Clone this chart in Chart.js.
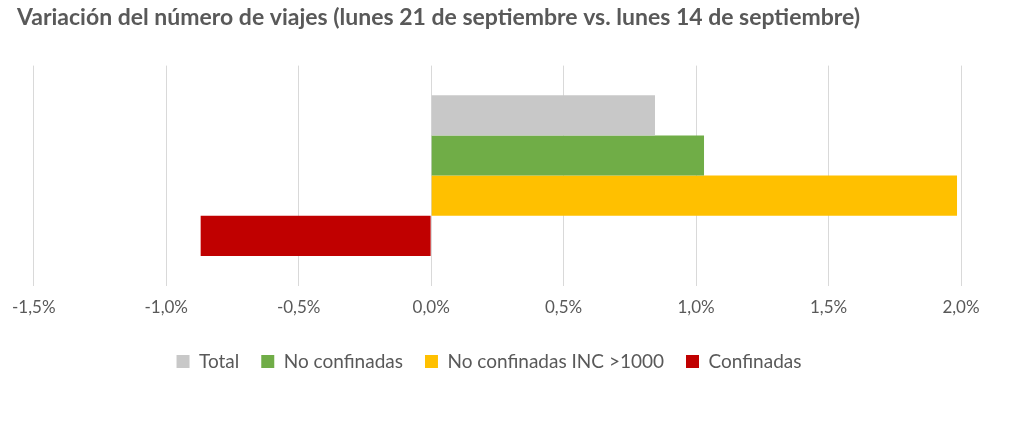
<!DOCTYPE html>
<html><head><meta charset="utf-8">
<script src="https://cdn.jsdelivr.net/npm/chart.js@4"></script>
<style>html,body{margin:0;padding:0;background:#fff}#w{width:1024px;height:421px}</style>
</head><body><div id="w"><canvas id="c"></canvas></div>
<script>
const categories = [''];
const seriesNames = ['Total','No confinadas','No confinadas INC >1000','Confinadas'];
const seriesValues = [[0.845],[1.03],[1.985],[-0.87]];
const colors = ['#c8c8c8','#70ad47','#ffc000','#c00000'];
const title = 'Variación del número de viajes (lunes 21 de septiembre vs. lunes 14 de septiembre)';
new Chart(document.getElementById('c'), {
  type: 'bar',
  data: {labels: categories, datasets: seriesNames.map((n,i)=>({label:n,data:seriesValues[i],backgroundColor:colors[i],barPercentage:1,categoryPercentage:0.73}))},
  options: {
    indexAxis:'y', responsive:true, maintainAspectRatio:false, animation:false,
    layout:{padding:{left:17,right:63,top:0,bottom:40}},
    plugins:{
      title:{display:true,text:title,align:'start',color:'#595959',font:{family:'Lato',size:23,weight:'bold'},padding:{top:4,bottom:34}},
      legend:{position:'bottom',labels:{boxWidth:13,boxHeight:13,color:'#595959',font:{family:'Lato',size:19},padding:22}},
      tooltip:{enabled:false}
    },
    scales:{
      x:{min:-1.5,max:2.0,ticks:{stepSize:0.5,color:'#595959',font:{family:'Lato',size:17},padding:12,callback:v=>v.toFixed(1).replace('.',',')+'%'},grid:{color:'#d9d9d9',drawTicks:false},border:{display:false}},
      y:{ticks:{display:false},grid:{display:false},border:{display:false}}
    }
  }
});
</script></body></html>
